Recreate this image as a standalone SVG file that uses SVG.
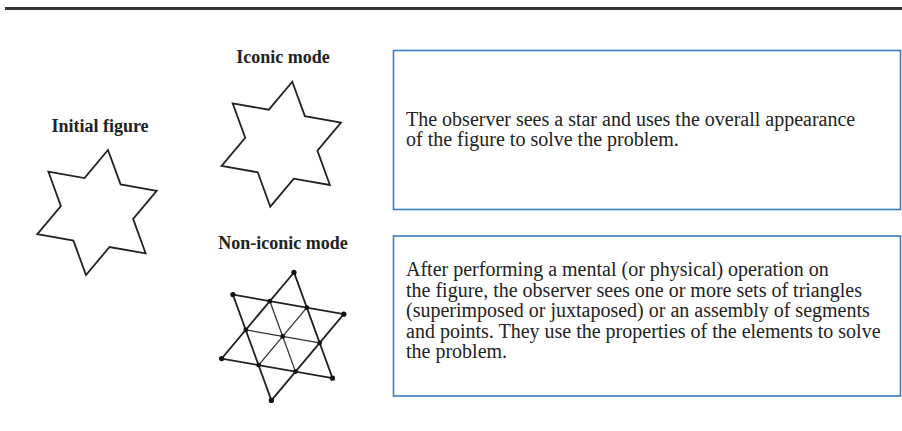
<svg xmlns="http://www.w3.org/2000/svg" width="902" height="431" viewBox="0 0 902 431">
<style>
.lbl{font-family:"Liberation Serif","Times New Roman",serif;font-weight:bold;font-size:18px;fill:#222;text-anchor:middle}
.body{font-family:"Liberation Serif","Times New Roman",serif;font-size:20px;fill:#222}
.box{fill:#fff;stroke:#3b7bbf;stroke-width:1.6}
.star{fill:none;stroke:#222;stroke-width:1.8;stroke-linejoin:miter}
.tri{fill:none;stroke:#222;stroke-width:1.8}
.inner{stroke:#333;stroke-width:1.3}
.dot{fill:#111}
</style>
<rect width="902" height="431" fill="#fff"/>
<line x1="5" y1="8.5" x2="902" y2="8.5" stroke="#333" stroke-width="3"/>

<g id="initial-figure">
<text class="lbl" x="100" y="132">Initial figure</text>
<polygon class="star" points="108.0,150.0 120.6,184.4 156.7,190.8 133.1,218.9 145.6,253.3 109.5,247.0 86.0,275.0 73.4,240.6 37.3,234.2 60.9,206.1 48.4,171.7 84.5,178.1"/>
</g>

<g id="iconic-mode">
<text class="lbl" x="283" y="63">Iconic mode</text>
<polygon class="star" points="292.3,81.7 304.9,116.1 341.0,122.5 317.4,150.6 329.9,185.0 293.8,178.7 270.3,206.7 257.7,172.3 221.6,165.9 245.2,137.8 232.7,103.4 268.8,109.7"/>
</g>

<g id="non-iconic-mode">
<text class="lbl" x="283" y="249">Non-iconic mode</text>
<polygon class="tri" points="294.0,272.4 332.5,378.2 221.6,358.6"/>
<polygon class="tri" points="232.9,294.6 343.8,314.2 271.4,400.4"/>
<line class="inner" x1="269.9" y1="301.2" x2="295.5" y2="371.6"/>
<line class="inner" x1="306.8" y1="307.7" x2="258.6" y2="365.1"/>
<line class="inner" x1="245.8" y1="329.9" x2="319.6" y2="342.9"/>
<g class="dot">
<circle cx="294.0" cy="272.4" r="2.6"/>
<circle cx="343.8" cy="314.2" r="2.6"/>
<circle cx="332.5" cy="378.2" r="2.6"/>
<circle cx="271.4" cy="400.4" r="2.6"/>
<circle cx="221.6" cy="358.6" r="2.6"/>
<circle cx="232.9" cy="294.6" r="2.6"/>
<circle cx="306.8" cy="307.7" r="2.4"/>
<circle cx="319.6" cy="342.9" r="2.4"/>
<circle cx="295.5" cy="371.6" r="2.4"/>
<circle cx="258.6" cy="365.1" r="2.4"/>
<circle cx="245.8" cy="329.9" r="2.4"/>
<circle cx="269.9" cy="301.2" r="2.4"/>
<circle cx="282.7" cy="336.4" r="2.4"/>
</g>
</g>

<g id="iconic-description">
<rect class="box" x="393.5" y="50.5" width="507" height="159"/>
<text class="body" x="406" y="126">The observer sees a star and uses the overall appearance</text>
<text class="body" x="406" y="146">of the figure to solve the problem.</text>
</g>

<g id="non-iconic-description">
<rect class="box" x="393.5" y="236" width="507" height="160"/>
<text class="body" x="406" y="276.3">After performing a mental (or physical) operation on</text>
<text class="body" x="406" y="296.8">the figure, the observer sees one or more sets of triangles</text>
<text class="body" x="406" y="317.3">(superimposed or juxtaposed) or an assembly of segments</text>
<text class="body" x="406" y="337.8">and points. They use the properties of the elements to solve</text>
<text class="body" x="406" y="358.3">the problem.</text>
</g>

<g id="connectors"></g>
</svg>
